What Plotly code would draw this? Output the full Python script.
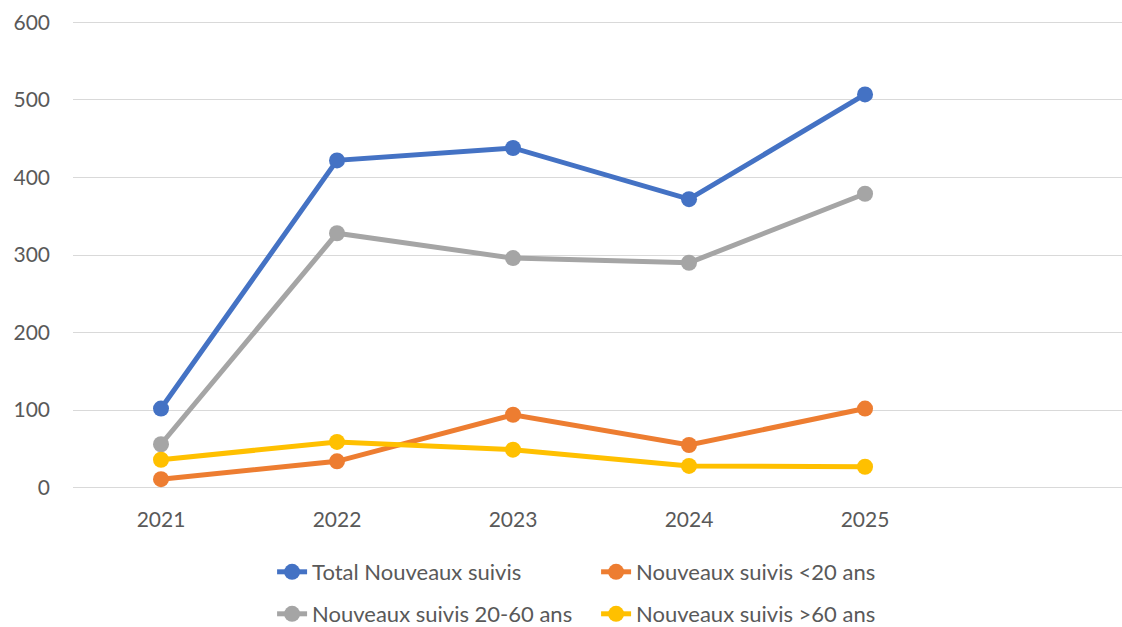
import plotly.graph_objects as go

years = ["2021", "2022", "2023", "2024", "2025"]
total = [102, 422, 438, 372, 507]
moins_20 = [11, 34, 94, 55, 102]
de_20_60 = [56, 328, 296, 290, 379]
plus_60 = [36, 59, 49, 28, 27]

series = [
    ("Total Nouveaux suivis", total, "#4472C4", "legend"),
    ("Nouveaux suivis <20 ans", moins_20, "#ED7D31", "legend"),
    ("Nouveaux suivis 20-60 ans", de_20_60, "#A5A5A5", "legend2"),
    ("Nouveaux suivis >60 ans", plus_60, "#FFC000", "legend2"),
]

font_family = "Lato, 'Open Sans', sans-serif"
text_color = "#595959"

fig = go.Figure()
for name, vals, color, leg in series:
    fig.add_trace(
        go.Scatter(
            x=years,
            y=vals,
            name=name,
            mode="lines+markers",
            line=dict(color=color, width=5),
            marker=dict(color=color, size=16),
            legend=leg,
        )
    )

legend_common = dict(
    orientation="h",
    xref="container",
    yref="container",
    x=0.2425,
    xanchor="left",
    yanchor="middle",
    entrywidth=279,
    entrywidthmode="pixels",
    font=dict(family=font_family, size=22, color=text_color),
    itemwidth=30,
    tracegroupgap=0,
    bgcolor="rgba(0,0,0,0)",
)

# y range padded a bit so the 0 and 600 gridlines are still drawn
fig.update_layout(
    width=1122,
    height=627,
    margin=dict(l=73, r=0, t=20, b=137),
    plot_bgcolor="white",
    paper_bgcolor="white",
    font=dict(family=font_family, size=21, color=text_color),
    legend=dict(legend_common, y=(627 - 572) / 627),
    legend2=dict(legend_common, y=(627 - 614) / 627),
    xaxis=dict(
        type="category",
        range=[-0.5, 5.46],  # empty slot after 2025, like the original
        showgrid=False,
        showline=False,
        zeroline=False,
        ticklabelstandoff=15,
        tickfont=dict(size=21, color=text_color),
    ),
    yaxis=dict(
        range=[-3, 603],
        tickvals=[0, 100, 200, 300, 400, 500, 600],
        showgrid=True,
        gridcolor="#D9D9D9",
        gridwidth=1.3,
        zeroline=False,
        showline=False,
        ticklabelstandoff=22,
        tickfont=dict(size=21, color=text_color),
    ),
)

fig.write_html(
    "out.html",
    config={"displayModeBar": False},
    post_script="document.body.style.margin='0';",
)
